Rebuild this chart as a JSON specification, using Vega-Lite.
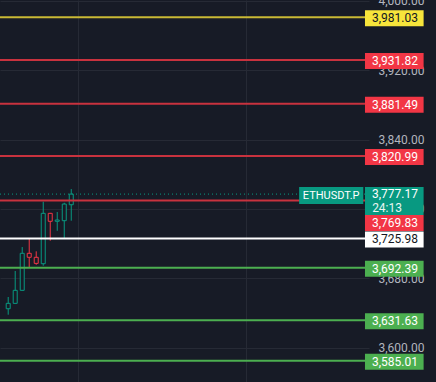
{
  "$schema": "https://vega.github.io/schema/vega-lite/v6.json",
  "width": 369,
  "height": 382,
  "autosize": {"type": "none"},
  "padding": {"left": 0, "top": 0, "right": 67, "bottom": 0},
  "background": "#171b26",
  "config": {"view": {"stroke": null}, "font": "Roboto"},
  "datasets": {
    "candles": [
      {"i": 0, "open": 3645.0, "close": 3651.2, "high": 3658.5, "low": 3638.1, "dir": "up"},
      {"i": 1, "open": 3651.2, "close": 3666.2, "high": 3688.5, "low": 3651.0, "dir": "up"},
      {"i": 2, "open": 3666.2, "close": 3708.9, "high": 3716.1, "low": 3666.0, "dir": "up"},
      {"i": 3, "open": 3708.9, "close": 3704.3, "high": 3726.5, "low": 3692.7, "dir": "down"},
      {"i": 4, "open": 3704.3, "close": 3697.3, "high": 3711.2, "low": 3695.7, "dir": "down"},
      {"i": 5, "open": 3696.9, "close": 3755.0, "high": 3768.4, "low": 3694.6, "dir": "up"},
      {"i": 6, "open": 3755.0, "close": 3745.8, "high": 3755.5, "low": 3723.4, "dir": "down"},
      {"i": 7, "open": 3745.8, "close": 3747.3, "high": 3756.5, "low": 3734.9, "dir": "up"},
      {"i": 8, "open": 3746.5, "close": 3765.7, "high": 3767.2, "low": 3726.5, "dir": "up"},
      {"i": 9, "open": 3764.9, "close": 3777.17, "high": 3783.0, "low": 3746.5, "dir": "up"}
    ],
    "levels": [
      {"price": 3981.03, "kind": "yellow"},
      {"price": 3931.82, "kind": "red"},
      {"price": 3881.49, "kind": "red"},
      {"price": 3820.99, "kind": "red"},
      {"price": 3769.83, "kind": "red"},
      {"price": 3725.98, "kind": "white"},
      {"price": 3692.39, "kind": "green"},
      {"price": 3631.63, "kind": "green"},
      {"price": 3585.01, "kind": "green"}
    ],
    "last": [
      {"price": 3777.17, "symbol": "ETHUSDT.P", "countdown": "24:13"}
    ]
  },
  "layer": [
    {
      "data": {"name": "candles"},
      "mark": {"type": "rule", "strokeWidth": 1},
      "encoding": {
        "x": {"field": "i", "type": "quantitative",
              "scale": {"domain": [-0.4583, 50.79], "nice": false, "zero": false},
              "axis": {"values": [10, 34], "labels": false, "ticks": false, "domain": false, "title": null, "grid": true, "gridColor": "#262a35", "gridWidth": 1}},
        "y": {"field": "low", "type": "quantitative",
              "scale": {"domain": [3560.5, 4001], "nice": false, "zero": false},
              "axis": {"orient": "right", "values": [3560, 3600, 3640, 3680, 3720, 3760, 3800, 3840, 3880, 3920, 3960, 4000],
                       "format": ",.2f", "domain": false, "ticks": false, "tickSize": 0, "labelPadding": 9,
                       "labelColor": "#b2b5be", "labelFontSize": 12, "labelFont": "Roboto",
                       "labelOverlap": false, "labelBound": false, "labelFlush": false, "labelAlign": "left", "labelBaseline": "middle",
                       "title": null, "grid": true, "gridColor": "#262a35", "gridWidth": 1}},
        "y2": {"field": "high"},
        "stroke": {"field": "dir", "type": "nominal",
                   "scale": {"domain": ["up", "down", "yellow", "red", "white", "green"], "range": ["#089981", "#f23645", "#c9b935", "#c8323e", "#ffffff", "#4caf50"]},
                   "legend": null}
      }
    },
    {
      "data": {"name": "candles"},
      "mark": {"type": "bar", "width": 4, "fill": "#171b26", "strokeWidth": 1},
      "encoding": {
        "x": {"field": "i", "type": "quantitative"},
        "y": {"field": "open", "type": "quantitative"},
        "y2": {"field": "close"},
        "stroke": {"field": "dir", "type": "nominal", "legend": null}
      }
    },
    {
      "data": {"name": "levels"},
      "mark": {"type": "rule", "strokeWidth": 2},
      "encoding": {
        "y": {"field": "price", "type": "quantitative"},
        "stroke": {"field": "kind", "type": "nominal", "legend": null}
      }
    },
    {
      "data": {"name": "last"},
      "mark": {"type": "rule", "strokeWidth": 1, "stroke": "#089981", "strokeDash": [1, 3]},
      "encoding": {
        "y": {"field": "price", "type": "quantitative"}
      }
    },
    {
      "data": {"name": "levels"},
      "transform": [{"filter": "datum.price != 3769.83"}],
      "mark": {"type": "rect", "height": 16, "yOffset": 1},
      "encoding": {
        "x": {"datum": 50.93, "type": "quantitative"},
        "x2": {"datum": 59.3},
        "y": {"field": "price", "type": "quantitative"},
        "fill": {"field": "kind", "type": "nominal",
                 "scale": {"domain": ["yellow", "red", "white", "green"], "range": ["#f7e53b", "#f23645", "#ffffff", "#4caf50"]},
                 "legend": null}
      }
    },
    {
      "data": {"name": "levels"},
      "transform": [{"filter": "datum.price != 3769.83"}],
      "mark": {"type": "text", "fontSize": 12, "font": "Roboto", "align": "center", "baseline": "middle", "yOffset": 1},
      "encoding": {
        "x": {"datum": 55.2, "type": "quantitative"},
        "y": {"field": "price", "type": "quantitative"},
        "text": {"field": "price", "type": "quantitative", "format": ",.2f"},
        "color": {"field": "kind", "type": "nominal",
                  "scale": {"domain": ["yellow", "red", "white", "green"], "range": ["#131722", "#ffffff", "#131722", "#ffffff"]},
                  "legend": null}
      }
    },
    {
      "data": {"name": "last"},
      "mark": {"type": "rect", "height": 28, "yOffset": 7, "fill": "#089981"},
      "encoding": {
        "x": {"datum": 50.93, "type": "quantitative"},
        "x2": {"datum": 59.3},
        "y": {"field": "price", "type": "quantitative"}
      }
    },
    {
      "data": {"name": "last"},
      "mark": {"type": "text", "fontSize": 12, "font": "Roboto", "align": "center", "baseline": "middle", "fill": "#ffffff"},
      "encoding": {
        "x": {"datum": 55.2, "type": "quantitative"},
        "y": {"field": "price", "type": "quantitative"},
        "text": {"field": "price", "type": "quantitative", "format": ",.2f"}
      }
    },
    {
      "data": {"name": "last"},
      "mark": {"type": "text", "fontSize": 12, "font": "Roboto", "align": "left", "baseline": "middle", "fill": "#e8f5f2", "yOffset": 14},
      "encoding": {
        "x": {"datum": 51.95, "type": "quantitative"},
        "y": {"field": "price", "type": "quantitative"},
        "text": {"field": "countdown", "type": "nominal"}
      }
    },
    {
      "data": {"name": "levels"},
      "transform": [{"filter": "datum.price == 3769.83"}],
      "mark": {"type": "rect", "height": 16, "yOffset": 22.6, "fill": "#f23645"},
      "encoding": {
        "x": {"datum": 50.93, "type": "quantitative"},
        "x2": {"datum": 59.3},
        "y": {"field": "price", "type": "quantitative"}
      }
    },
    {
      "data": {"name": "levels"},
      "transform": [{"filter": "datum.price == 3769.83"}],
      "mark": {"type": "text", "fontSize": 12, "font": "Roboto", "align": "center", "baseline": "middle", "yOffset": 22.6, "fill": "#ffffff"},
      "encoding": {
        "x": {"datum": 55.2, "type": "quantitative"},
        "y": {"field": "price", "type": "quantitative"},
        "text": {"field": "price", "type": "quantitative", "format": ",.2f"}
      }
    },
    {
      "data": {"name": "last"},
      "mark": {"type": "rect", "height": 17, "yOffset": 1.4, "fill": "#089981"},
      "encoding": {
        "x": {"datum": 41.53, "type": "quantitative"},
        "x2": {"datum": 50.69},
        "y": {"field": "price", "type": "quantitative"}
      }
    },
    {
      "data": {"name": "last"},
      "mark": {"type": "text", "fontSize": 11, "font": "Roboto", "align": "center", "baseline": "middle", "yOffset": 1.4, "fill": "#ffffff"},
      "encoding": {
        "x": {"datum": 46.1, "type": "quantitative"},
        "y": {"field": "price", "type": "quantitative"},
        "text": {"field": "symbol", "type": "nominal"}
      }
    }
  ]
}
